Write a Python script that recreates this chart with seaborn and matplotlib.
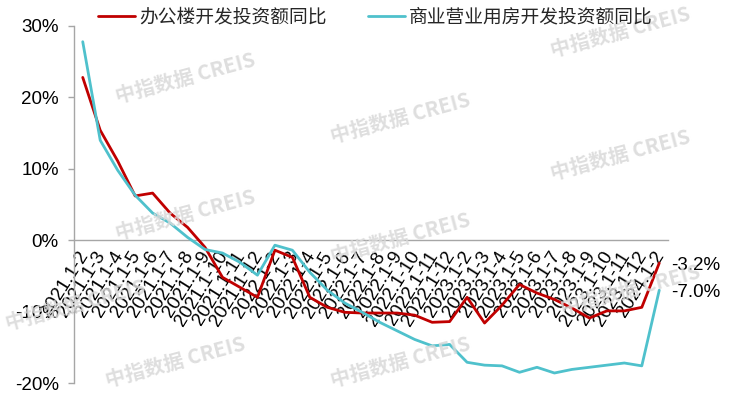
import matplotlib
matplotlib.use("Agg")
import matplotlib.pyplot as plt
import matplotlib.transforms as mtransforms
import seaborn as sns
import pandas as pd

# ---- data ----
categories = [
    "2021.1-2", "2021.1-3", "2021.1-4", "2021.1-5", "2021.1-6", "2021.1-7",
    "2021.1-8", "2021.1-9", "2021.1-10", "2021.1-11", "2021.1-12",
    "2022.1-2", "2022.1-3", "2022.1-4", "2022.1-5", "2022.1-6", "2022.1-7",
    "2022.1-8", "2022.1-9", "2022.1-10", "2022.1-11", "2022.1-12",
    "2023.1-2", "2023.1-3", "2023.1-4", "2023.1-5", "2023.1-6", "2023.1-7",
    "2023.1-8", "2023.1-9", "2023.1-10", "2023.1-11", "2023.1-12",
    "2024.1-2",
]
office = [22.8, 15.4, 11.1, 6.2, 6.6, 3.8, 1.8, -1.0, -5.2, -6.6, -8.0,
          -1.4, -2.4, -8.0, -9.4, -10.1, -10.2, -10.2, -10.2, -10.5, -11.5, -11.4,
          -8.0, -11.6, -9.1, -6.2, -7.4, -8.3, -9.5, -10.9, -9.9, -9.9, -9.4,
          -3.2]
commercial = [27.8, 14.0, 9.8, 6.3, 3.8, 2.4, 0.4, -1.3, -1.8, -3.1, -4.9,
              -0.7, -1.4, -4.5, -7.0, -8.8, -10.1, -11.5, -12.7, -13.9, -14.8, -14.6,
              -17.1, -17.5, -17.6, -18.5, -17.8, -18.6, -18.1, -17.8, -17.5, -17.2, -17.6,
              -7.0]
series_names = ["办公楼开发投资额同比", "商业营业用房开发投资额同比"]
end_labels = ["-3.2%", "-7.0%"]
yticks = [-20, -10, 0, 10, 20, 30]
watermark = "中指数据 CREIS"

sns.set_theme(style="white")
plt.rcParams["font.family"] = ["Liberation Sans", "Noto Sans CJK SC", "DejaVu Sans"]

W, H = 729, 397
fig = plt.figure(figsize=(W / 100, H / 100), dpi=100)
ax = fig.add_axes([74 / W, 1 - 383 / H, (668 - 74) / W, (383 - 26) / H])

# watermarks (behind everything)
wm_pos = [(185, 78), (400, 118), (620, 32), (185, 215), (400, 238), (620, 155),
          (75, 305), (175, 362), (400, 362), (630, 290)]
for px, py in wm_pos:
    fig.text(px / W, 1 - py / H, watermark, ha="center", va="center", rotation=15,
             fontsize=14.5, fontweight="bold", color="#d9d9d9", alpha=0.85,
             family=["Noto Sans CJK SC", "DejaVu Sans"], zorder=0)
ax.set_facecolor("none")

df = pd.DataFrame({
    "period": categories * 2,
    "value": office + commercial,
    "series": [series_names[0]] * len(categories) + [series_names[1]] * len(categories),
})
palette = {series_names[0]: "#C00000", series_names[1]: "#4FC1CC"}
sns.lineplot(data=df, x="period", y="value", hue="series", palette=palette,
             linewidth=2.0, ax=ax, sort=False, legend=True)

ax.set_xlim(-0.5, len(categories) - 0.5)
ax.set_ylim(-20, 30)
ax.set_yticks(yticks)
ax.set_yticklabels([f"{v}%" for v in yticks])
ax.set_xlabel("")
ax.set_ylabel("")

for s in ["top", "right"]:
    ax.spines[s].set_visible(False)
ax.spines["left"].set_color("#a6a6a6")
ax.spines["left"].set_linewidth(1.0)
ax.spines["bottom"].set_position(("data", 0))
ax.spines["bottom"].set_color("#a6a6a6")
ax.spines["bottom"].set_linewidth(1.0)
ax.spines["bottom"].set_zorder(1)

ax.tick_params(axis="y", which="both", left=True, length=4, width=1,
               color="#a6a6a6", pad=7, labelsize=13.5, labelcolor="black")
ax.tick_params(axis="x", which="both", bottom=False, length=0, pad=6,
               labelsize=13.5, labelcolor="black")
ax.set_xticks(range(len(categories)))
ax.set_xticklabels(categories, rotation=58, ha="right", va="top",
                   rotation_mode="default")
offset = mtransforms.ScaledTranslation(9 / 100, 0, fig.dpi_scale_trans)
for lbl in ax.get_xticklabels():
    lbl.set_transform(lbl.get_transform() + offset)

# end labels
last = len(categories) - 1
for val, txt in zip([office[-1], commercial[-1]], end_labels):
    ax.annotate(txt, xy=(last, val), xytext=(8.5, -1.5), textcoords="offset points",
                ha="left", va="center", fontsize=13.5, color="black",
                annotation_clip=False)

# legend
handles, labels = ax.get_legend_handles_labels()
ax.get_legend().remove()
fig.legend(handles, labels, loc="center", bbox_to_anchor=(375 / W, 1 - 17 / H),
           ncol=2, frameon=False, fontsize=13.5, handlelength=2.0,
           handletextpad=0.2, columnspacing=2.2,
           prop={"family": ["Noto Sans CJK SC", "DejaVu Sans"], "size": 13.5})

for line in ax.get_lines():
    line.set_solid_joinstyle("round")
    line.set_zorder(3)

fig.savefig("out.png", dpi=100)
